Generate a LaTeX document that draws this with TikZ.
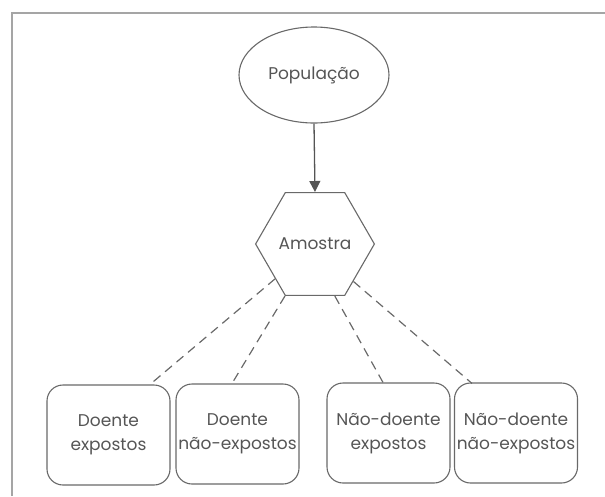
\documentclass[tikz,border=0pt]{standalone}
\usepackage{fontspec}
\setmainfont{Poppins}
\usetikzlibrary{shapes.geometric,arrows.meta,calc}
\definecolor{linegray}{RGB}{105,105,105}
\definecolor{textgray}{RGB}{85,85,85}
\tikzset{
  every node/.style={text=textgray, font=\fontsize{17}{24}\selectfont},
  frameline/.style={draw=linegray!60, line width=1.2pt},
  popnode/.style={ellipse, draw=linegray, line width=1.1pt, minimum width=150pt, minimum height=96pt, inner sep=0pt},
  hexnode/.style={regular polygon, regular polygon sides=6, draw=linegray, line width=1.1pt, minimum size=116pt, inner sep=0pt},
  groupbox/.style={rectangle, rounded corners=16pt, draw=linegray, line width=1.1pt, minimum width=123pt, minimum height=100pt, align=center, inner sep=0pt},
  arrowline/.style={draw=linegray!80!black, line width=1.3pt, -{Triangle[width=11pt,length=11pt]}},
  dashline/.style={draw=linegray, line width=1.2pt, dash pattern=on 9pt off 6pt}
}
\begin{document}
\begin{tikzpicture}[x=1pt,y=-1pt]
\useasboundingbox (0,0) rectangle (605,496);
\draw[frameline] (12,496) -- (12,13) -- (605,13);
\node[popnode] (pop) at (314,75) {População};
\node[hexnode] (hex) at (315,244) {Amostra};
\draw[arrowline] (pop.south) -- (hex.north);
\node[groupbox] (box1) at (108.5,435) {Doente\\expostos};
\node[groupbox] (box2) at (237.5,434) {Doente\\não-expostos};
\node[groupbox] (box3) at (388.5,433) {Não-doente\\expostos};
\node[groupbox] (box4) at (516,433) {Não-doente\\não-expostos};
\coordinate (h1) at ($(hex.corner 3)!0.67!(hex.corner 4)$);
\coordinate (h2) at (hex.corner 4);
\coordinate (h3) at ($(hex.corner 4)!0.83!(hex.corner 5)$);
\coordinate (h4) at ($(hex.corner 6)!0.72!(hex.corner 5)$);
\coordinate (b1) at ([xshift=41.5pt]box1.north);
\coordinate (b2) at ([xshift=-5.5pt]box2.north);
\coordinate (b3) at ([xshift=-5.5pt]box3.north);
\coordinate (b4) at ([xshift=-44pt,yshift=-1pt]box4.north);
\draw[dashline] (h1) -- (b1);
\draw[dashline] (h2) -- (b2);
\draw[dashline] (h3) -- (b3);
\draw[dashline] (h4) -- (b4);
\end{tikzpicture}
\end{document}
